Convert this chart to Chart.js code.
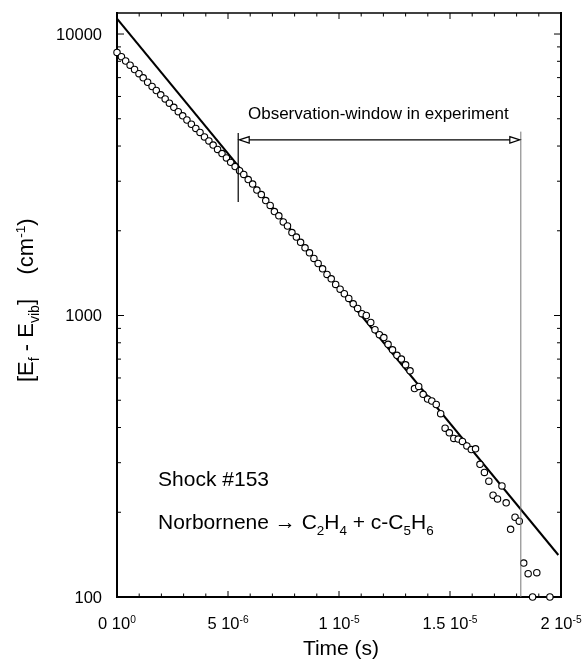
<!DOCTYPE html>
<html lang="en">
<head>
<meta charset="UTF-8">
<title>Shock #153</title>
<style>
  * { margin: 0; padding: 0; box-sizing: border-box; }
  body { background: #fff; }
  .wrap { width: 582px; height: 664px; position: relative; }
</style>
<script src="https://cdn.jsdelivr.net/npm/chart.js"></script>
</head>
<body>
<div class="wrap"><canvas id="chart"></canvas></div>
<script>
// time in microseconds, energy difference in cm-1
const timeUs = [
  0.00, 0.20, 0.39, 0.59, 0.79, 0.99, 1.18, 1.38, 1.58, 1.77,
  1.97, 2.17, 2.36, 2.56, 2.76, 2.96, 3.15, 3.35, 3.55, 3.74,
  3.94, 4.14, 4.33, 4.53, 4.73, 4.93, 5.12, 5.32, 5.52, 5.71,
  5.91, 6.11, 6.30, 6.50, 6.70, 6.90, 7.09, 7.29, 7.49, 7.68,
  7.88, 8.08, 8.27, 8.47, 8.67, 8.87, 9.06, 9.26, 9.46, 9.65,
  9.85, 10.05, 10.24, 10.44, 10.64, 10.84, 11.03, 11.23, 11.43, 11.62,
  11.82, 12.02, 12.21, 12.41, 12.61, 12.81, 13.00, 13.20, 13.40, 13.59,
  13.79, 13.99, 14.18, 14.38, 14.58, 14.78, 14.97, 15.17, 15.37, 15.56,
  15.76, 15.96, 16.15, 16.35, 16.55, 16.75, 16.94, 17.14, 17.34, 17.53,
  17.73, 17.93, 18.12, 18.32, 18.52, 18.72, 18.91, 19.50
];
const energy = [
  8600, 8310, 8020, 7750, 7480, 7230, 6990, 6740, 6510, 6300,
  6080, 5880, 5680, 5490, 5300, 5120, 4950, 4780, 4620, 4470,
  4310, 4170, 4030, 3890, 3760, 3630, 3500, 3380, 3270, 3170,
  3040, 2930, 2790, 2690, 2560, 2460, 2340, 2260, 2150, 2080,
  1970, 1900, 1820, 1740, 1670, 1595, 1530, 1465, 1400, 1350,
  1290, 1240, 1195, 1150, 1100, 1060, 1015, 1000, 945, 890,
  855, 835, 790, 755, 722, 700, 668, 636, 550, 560,
  525, 505, 497, 483, 448, 398, 383, 366, 364, 357,
  344, 334, 336, 296, 277, 258, 230, 223, 248, 216,
  174, 192, 186, 132, 121, 100, 122, 100
];
// fitted exponential decay (end points)
const fitTime = [0, 19.88];
const fitEnergy = [11330, 141];

// axis labels
const xMajor = [0, 5, 10, 15, 20];
const xMant = ['0', '5', '1', '1.5', '2'];
const xExp = ['0', '-6', '-5', '-5', '-5'];
const yMajor = [100, 1000, 10000];
const yLabels = ['100', '1000', '10000'];

// observation window annotation
const windowTime = [5.46, 18.19];
const windowArrowE = 4207;
const windowLeftBar = [4450, 2530];
const windowRightTop = 4500;

const FONT = '"Liberation Sans", Arial, Helvetica, sans-serif';
const font = px => px + 'px ' + FONT;

function line(ctx, x1, y1, x2, y2) {
  ctx.beginPath();
  ctx.moveTo(x1, y1);
  ctx.lineTo(x2, y2);
  ctx.stroke();
}

// parts: [text, 'n' | 'sub' | 'sup']
function partStyle(mode, size) {
  if (mode === 'sub') return { s: size * 0.64, dy: size * 0.29 };
  if (mode === 'sup') return { s: size * 0.62, dy: -size * 0.36 };
  return { s: size, dy: 0 };
}
function richWidth(ctx, parts, size) {
  let w = 0;
  parts.forEach(([t, m]) => {
    ctx.font = font(partStyle(m, size).s);
    w += ctx.measureText(t).width;
  });
  return w;
}
function drawRich(ctx, parts, x, y, size) {
  ctx.textAlign = 'left';
  ctx.textBaseline = 'alphabetic';
  parts.forEach(([t, m]) => {
    const st = partStyle(m, size);
    ctx.font = font(st.s);
    ctx.fillText(t, x, y + st.dy);
    x += ctx.measureText(t).width;
  });
}

const framePlugin = {
  id: 'frame',
  beforeDatasetsDraw(chart) {
    const { ctx, chartArea: a, scales: { x, y } } = chart;
    ctx.save();
    ctx.strokeStyle = '#000';
    ctx.lineWidth = 1;
    for (let v = 0; v <= 20; v++) {
      const px = x.getPixelForValue(v);
      const len = v % 5 === 0 ? 6 : 3.5;
      line(ctx, px, a.bottom, px, a.bottom - len);
      line(ctx, px, a.top, px, a.top + len);
    }
    [100, 1000, 10000].forEach(d => {
      for (let k = 1; k < 10; k++) {
        const v = d * k;
        if (v > y.max) break;
        const py = y.getPixelForValue(v);
        const len = k === 1 ? 7 : 4;
        line(ctx, a.left, py, a.left + len, py);
        line(ctx, a.right, py, a.right - len, py);
      }
    });
    ctx.lineWidth = 2;
    line(ctx, a.left, a.top - 1, a.left, a.bottom + 1);
    line(ctx, a.left - 1, a.bottom, a.right + 1, a.bottom);
    line(ctx, a.right, a.top - 1, a.right, a.bottom + 1);
    ctx.lineWidth = 1.5;
    line(ctx, a.left, a.top, a.right, a.top);

    // tick labels
    ctx.fillStyle = '#000';
    ctx.font = font(16.5);
    ctx.textAlign = 'right';
    ctx.textBaseline = 'middle';
    yMajor.forEach((v, i) => ctx.fillText(yLabels[i], a.left - 15, y.getPixelForValue(v) + 1));
    xMajor.forEach((v, i) => {
      const parts = [[xMant[i] + ' 10', 'n'], [xExp[i], 'sup']];
      const w = richWidth(ctx, parts, 16.5);
      drawRich(ctx, parts, x.getPixelForValue(v) - w / 2, a.bottom + 32, 16.5);
    });

    // axis titles
    ctx.font = font(21);
    ctx.textAlign = 'center';
    ctx.textBaseline = 'alphabetic';
    ctx.fillText('Time (s)', (a.left + a.right) / 2 + 2, a.bottom + 58);

    ctx.save();
    ctx.translate(33, 382);
    ctx.rotate(-Math.PI / 2);
    drawRich(ctx, [['[E', 'n'], ['f', 'sub'], [' - E', 'n'], ['vib', 'sub'], [']    (cm', 'n'], ['-1', 'sup'], [')', 'n']], 0, 0, 22);
    ctx.restore();
    ctx.restore();
  },
  afterDatasetsDraw(chart) {
    const { ctx, chartArea: a, scales: { x, y } } = chart;
    ctx.save();
    const xl = x.getPixelForValue(windowTime[0]);
    const xr = x.getPixelForValue(windowTime[1]);
    const ya = y.getPixelForValue(windowArrowE);

    ctx.strokeStyle = '#000';
    ctx.lineWidth = 1.2;
    line(ctx, xl, y.getPixelForValue(windowLeftBar[0]), xl, y.getPixelForValue(windowLeftBar[1]));
    ctx.strokeStyle = '#777';
    ctx.lineWidth = 1;
    line(ctx, xr, y.getPixelForValue(windowRightTop), xr, a.bottom);

    // double arrow with open heads
    ctx.strokeStyle = '#000';
    ctx.lineWidth = 1.2;
    const hl = 10, hw = 3.2;
    line(ctx, xl + hl, ya, xr - hl, ya);
    ctx.fillStyle = '#fff';
    [[xl + 1, 1], [xr - 1, -1]].forEach(([tip, dir]) => {
      ctx.beginPath();
      ctx.moveTo(tip, ya);
      ctx.lineTo(tip + dir * hl, ya - hw);
      ctx.lineTo(tip + dir * hl, ya + hw);
      ctx.closePath();
      ctx.fill();
      ctx.stroke();
    });

    ctx.fillStyle = '#000';
    drawRich(ctx, [['Observation-window in experiment', 'n']], x.getPixelForValue(5.9), y.getPixelForValue(4990), 17);
    drawRich(ctx, [['Shock #153', 'n']], x.getPixelForValue(1.85), y.getPixelForValue(248), 21);
    drawRich(ctx, [['Norbornene \u2192 C', 'n'], ['2', 'sub'], ['H', 'n'], ['4', 'sub'], [' + c-C', 'n'], ['5', 'sub'], ['H', 'n'], ['6', 'sub']],
      x.getPixelForValue(1.85), y.getPixelForValue(174.5), 21);
    ctx.restore();
  }
};

const points = timeUs.map((t, i) => ({ x: t, y: energy[i] }));
const fit = fitTime.map((t, i) => ({ x: t, y: fitEnergy[i] }));

new Chart(document.getElementById('chart'), {
  type: 'scatter',
  data: {
    datasets: [
      {
        label: 'Measured',
        data: points,
        pointRadius: 3.2,
        pointBorderWidth: 1.1,
        pointBackgroundColor: '#fff',
        pointBorderColor: '#000',
        clip: false,
        order: 1
      },
      {
        label: 'Fit',
        data: fit,
        showLine: true,
        borderColor: '#000',
        borderWidth: 2,
        pointRadius: 0,
        order: 2
      }
    ]
  },
  options: {
    responsive: true,
    maintainAspectRatio: false,
    animation: false,
    events: [],
    layout: { padding: { left: 117, top: 13, right: 21, bottom: 67 } },
    plugins: { legend: { display: false }, tooltip: { enabled: false } },
    scales: {
      x: { type: 'linear', min: 0, max: 20, display: false },
      y: { type: 'logarithmic', min: 100, max: 11876, display: false }
    }
  },
  plugins: [framePlugin]
});
</script>
</body>
</html>
